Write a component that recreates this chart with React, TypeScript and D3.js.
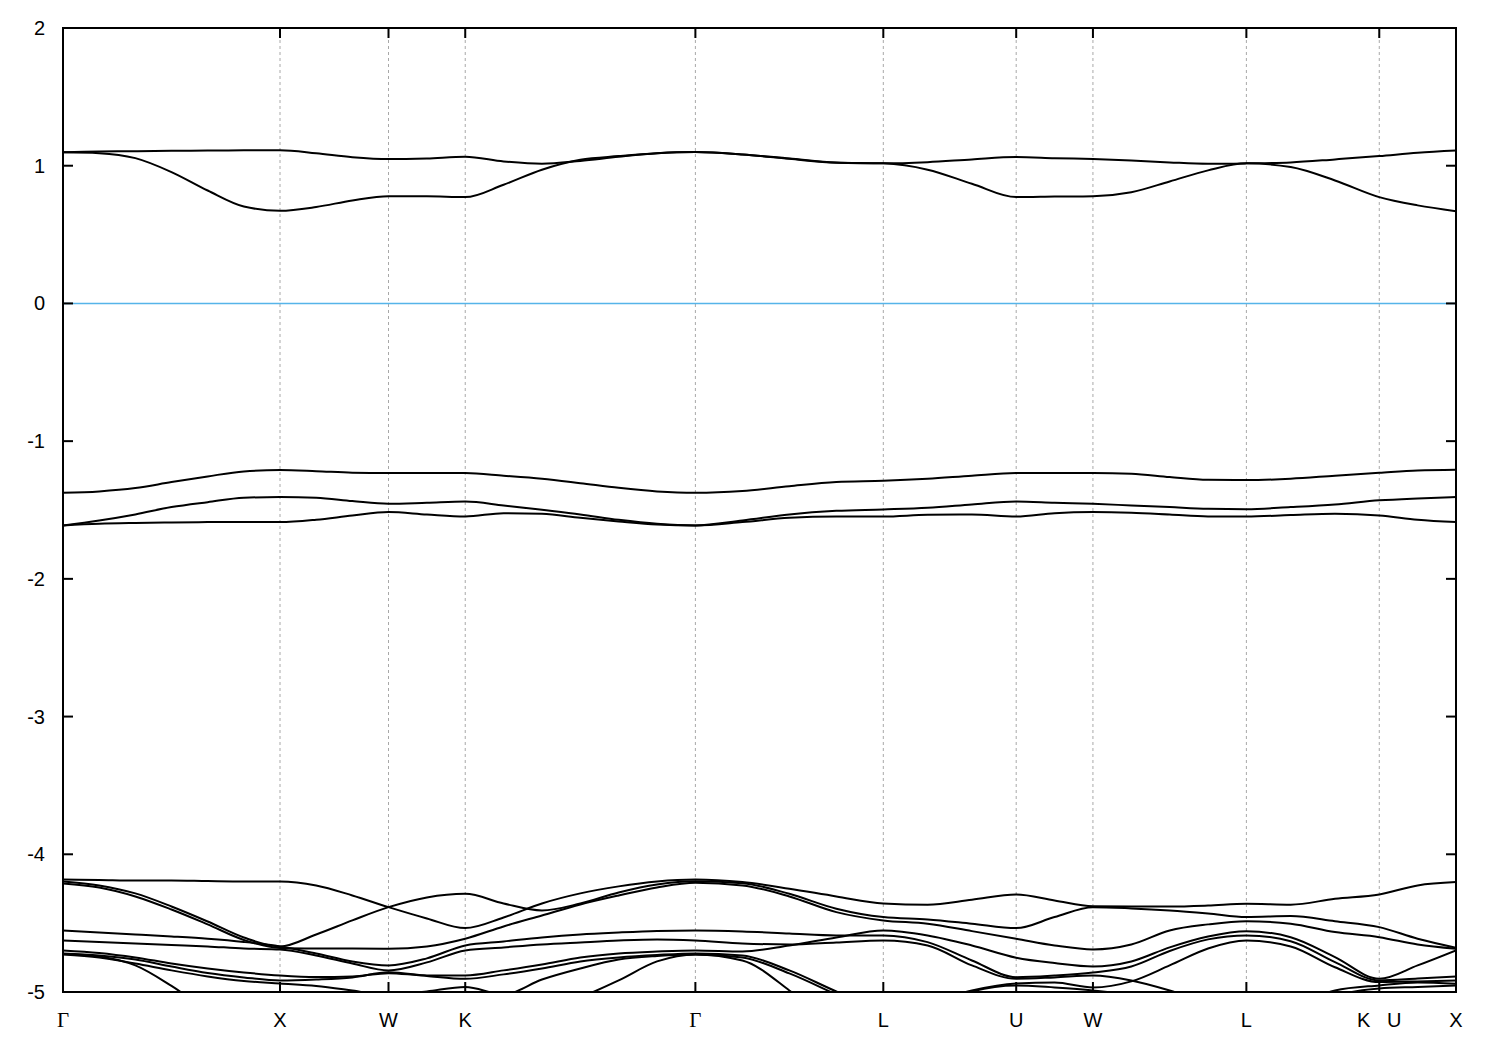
import React from "react";
import * as d3 from "d3";

// ---------- data ----------
const kTicks = [0, 1, 1.5, 1.8536, 2.9142, 3.7802, 4.3926, 4.7462, 5.4533, 6.0657, 6.4193];
const kLabels = ["Γ", "X", "W", "K", "Γ", "L", "U", "W", "L", "K   U", "X"];
const segmentDivisions = [6, 3, 2, 6, 4, 3, 2, 4, 3, 2];
const yTicks = [-5, -4, -3, -2, -1, 0, 1, 2];
const fermiLevel = 0;

const topA = [1.097, 1.091, 1.055, 0.954, 0.82, 0.704, 0.673, 0.7, 0.748, 0.779, 0.779, 0.772, 0.862, 0.971, 1.043, 1.07, 1.091, 1.099, 1.082, 1.053, 1.024, 1.017, 0.971, 0.869, 0.772, 0.776, 0.779, 0.808, 0.886, 0.966, 1.017, 0.99, 0.893, 0.772, 0.712, 0.67];
const topB = [1.097, 1.104, 1.105, 1.108, 1.11, 1.112, 1.113, 1.091, 1.062, 1.048, 1.053, 1.065, 1.031, 1.014, 1.035, 1.065, 1.09, 1.099, 1.082, 1.05, 1.022, 1.017, 1.026, 1.046, 1.063, 1.055, 1.048, 1.038, 1.024, 1.014, 1.017, 1.024, 1.046, 1.07, 1.094, 1.11];

const mid1 = [-1.375, -1.365, -1.341, -1.297, -1.256, -1.22, -1.21, -1.218, -1.229, -1.232, -1.232, -1.232, -1.251, -1.273, -1.305, -1.339, -1.365, -1.375, -1.362, -1.327, -1.297, -1.288, -1.273, -1.251, -1.232, -1.232, -1.232, -1.237, -1.261, -1.281, -1.283, -1.273, -1.251, -1.23, -1.213, -1.208];
const mid2 = [-1.612, -1.576, -1.532, -1.479, -1.443, -1.411, -1.406, -1.411, -1.435, -1.455, -1.447, -1.438, -1.467, -1.499, -1.532, -1.571, -1.6, -1.612, -1.576, -1.532, -1.506, -1.496, -1.484, -1.46, -1.438, -1.447, -1.455, -1.467, -1.479, -1.491, -1.494, -1.479, -1.46, -1.43, -1.416, -1.406];
const mid3 = [-1.612, -1.6, -1.594, -1.59, -1.588, -1.588, -1.588, -1.571, -1.54, -1.515, -1.533, -1.547, -1.523, -1.528, -1.557, -1.583, -1.605, -1.612, -1.588, -1.556, -1.547, -1.547, -1.535, -1.533, -1.547, -1.523, -1.515, -1.52, -1.533, -1.547, -1.547, -1.537, -1.528, -1.54, -1.571, -1.588];

const low1 = [-4.183, -4.186, -4.19, -4.19, -4.194, -4.197, -4.197, -4.226, -4.299, -4.384, -4.466, -4.536, -4.459, -4.357, -4.284, -4.233, -4.197, -4.183, -4.202, -4.25, -4.306, -4.357, -4.366, -4.33, -4.292, -4.335, -4.377, -4.379, -4.379, -4.372, -4.359, -4.366, -4.323, -4.292, -4.226, -4.202];
const low2 = [-4.197, -4.226, -4.284, -4.379, -4.488, -4.604, -4.669, -4.582, -4.48, -4.384, -4.313, -4.287, -4.357, -4.408, -4.357, -4.277, -4.219, -4.195, -4.21, -4.287, -4.395, -4.456, -4.473, -4.504, -4.536, -4.456, -4.384, -4.393, -4.408, -4.43, -4.456, -4.449, -4.486, -4.529, -4.613, -4.678];
const low3 = [-4.212, -4.241, -4.306, -4.401, -4.509, -4.622, -4.68, -4.684, -4.685, -4.686, -4.669, -4.613, -4.524, -4.444, -4.364, -4.299, -4.241, -4.207, -4.226, -4.306, -4.42, -4.48, -4.504, -4.558, -4.613, -4.662, -4.691, -4.655, -4.553, -4.509, -4.486, -4.504, -4.565, -4.602, -4.655, -4.686];
const low4 = [-4.553, -4.568, -4.582, -4.597, -4.614, -4.637, -4.669, -4.72, -4.778, -4.807, -4.756, -4.662, -4.633, -4.604, -4.582, -4.568, -4.557, -4.553, -4.56, -4.575, -4.589, -4.589, -4.638, -4.771, -4.892, -4.88, -4.858, -4.815, -4.702, -4.618, -4.589, -4.631, -4.783, -4.916, -4.902, -4.887];
const low5 = [-4.626, -4.637, -4.647, -4.658, -4.669, -4.684, -4.691, -4.735, -4.793, -4.843, -4.785, -4.698, -4.676, -4.655, -4.64, -4.626, -4.618, -4.626, -4.647, -4.655, -4.64, -4.626, -4.662, -4.807, -4.904, -4.894, -4.88, -4.916, -4.989, -5.083, -5.134, -5.098, -4.989, -4.952, -4.931, -4.94];
const low6 = [-4.698, -4.716, -4.749, -4.793, -4.829, -4.858, -4.88, -4.891, -4.887, -4.863, -4.88, -4.88, -4.843, -4.8, -4.749, -4.72, -4.706, -4.698, -4.706, -4.662, -4.604, -4.553, -4.589, -4.662, -4.751, -4.79, -4.815, -4.778, -4.676, -4.597, -4.558, -4.602, -4.747, -4.904, -4.807, -4.698];
const low7 = [-4.72, -4.735, -4.764, -4.815, -4.862, -4.894, -4.916, -4.909, -4.894, -4.856, -4.883, -4.904, -4.872, -4.829, -4.778, -4.749, -4.731, -4.72, -4.735, -4.843, -4.996, -5.134, -5.083, -4.989, -4.938, -4.931, -4.967, -4.923, -4.807, -4.684, -4.626, -4.669, -4.82, -4.928, -4.923, -4.916];
const low8 = [-4.724, -4.742, -4.807, -4.956, -5.134, -5.279, -5.352, -5.388, -5.388, -5.388, -5.388, -5.352, -5.279, -5.149, -5.04, -4.916, -4.778, -4.727, -4.771, -4.989, -5.279, -5.352, -5.134, -4.996, -4.952, -4.967, -4.989, -5.025, -5.098, -5.17, -5.207, -5.134, -5.025, -4.974, -4.963, -4.952];
const low9 = [-4.727, -4.749, -4.793, -4.843, -4.887, -4.92, -4.938, -4.956, -4.989, -5.025, -4.996, -4.964, -5.018, -4.909, -4.829, -4.764, -4.738, -4.727, -4.749, -4.865, -5.018, -5.17, null, null, null, null, null, null, null, null, null, null, null, null, null, null];

const bands: (number | null)[][] = [topA, topB, mid1, mid2, mid3, low1, low2, low3, low4, low5, low6, low7, low8, low9];

// ---------- layout ----------
const W = 1500;
const H = 1050;
const left = 63;
const right = 1456;
const top = 28;
const bottom = 992;

export default function App() {
  const kGrid: number[] = [];
  segmentDivisions.forEach((n, i) => {
    for (let j = 0; j < n; j++) kGrid.push(kTicks[i] + ((kTicks[i + 1] - kTicks[i]) * j) / n);
  });
  kGrid.push(kTicks[kTicks.length - 1]);

  const x = d3.scaleLinear().domain([kTicks[0], kTicks[kTicks.length - 1]]).range([left, right]);
  const y = d3.scaleLinear().domain([-5, 2]).range([bottom, top]);

  const line = d3
    .line<[number, number | null]>()
    .defined((d) => d[1] !== null)
    .x((d) => x(d[0]))
    .y((d) => y(d[1] as number))
    .curve(d3.curveMonotoneX);

  const font = "'Liberation Sans', Arial, Helvetica, sans-serif";

  return (
    <svg width={W} height={H} style={{ position: "absolute", left: 0, top: 0, background: "#fff" }}>
      <defs>
        <clipPath id="plot">
          <rect x={left} y={top} width={right - left} height={bottom - top} />
        </clipPath>
      </defs>
      <rect x={0} y={0} width={W} height={H} fill="#fff" />
      {/* grid lines */}
      {kTicks.slice(1, -1).map((k, i) => (
        <line key={"g" + i} x1={x(k)} x2={x(k)} y1={top} y2={bottom} stroke="#a8a8a8" strokeWidth={1} strokeDasharray="3,3" />
      ))}
      {/* bands */}
      <g clipPath="url(#plot)">
        {bands.map((b, i) => (
          <path
            key={"b" + i}
            d={line(kGrid.map((k, j) => [k, b[j]] as [number, number | null])) || ""}
            fill="none"
            stroke="#000"
            strokeWidth={2}
            strokeLinejoin="round"
          />
        ))}
        <line x1={left} x2={right} y1={y(fermiLevel)} y2={y(fermiLevel)} stroke="#56b4e9" strokeWidth={1.6} />
      </g>
      {/* frame */}
      <rect x={left} y={top} width={right - left} height={bottom - top} fill="none" stroke="#000" strokeWidth={2} />
      {/* y ticks */}
      {yTicks.map((t) => (
        <g key={"y" + t}>
          <line x1={left} x2={left + 10} y1={y(t)} y2={y(t)} stroke="#000" strokeWidth={2} />
          <line x1={right} x2={right - 10} y1={y(t)} y2={y(t)} stroke="#000" strokeWidth={2} />
          <text x={left - 18} y={y(t)} textAnchor="end" dominantBaseline="central" fontFamily={font} fontSize={20}>
            {t}
          </text>
        </g>
      ))}
      {/* x ticks */}
      {kTicks.map((k, i) => (
        <g key={"x" + i}>
          <line x1={x(k)} x2={x(k)} y1={bottom} y2={bottom - 10} stroke="#000" strokeWidth={2} />
          <line x1={x(k)} x2={x(k)} y1={top} y2={top + 10} stroke="#000" strokeWidth={2} />
          <text
            x={x(k)}
            y={1027}
            textAnchor="middle"
            fontFamily={kLabels[i] === "Γ" ? "'Liberation Serif', 'Times New Roman', serif" : font}
            fontSize={kLabels[i] === "Γ" ? 21 : 20}
            xmlSpace="preserve"
            style={{ whiteSpace: "pre" }}
          >
            {kLabels[i]}
          </text>
        </g>
      ))}
    </svg>
  );
}
